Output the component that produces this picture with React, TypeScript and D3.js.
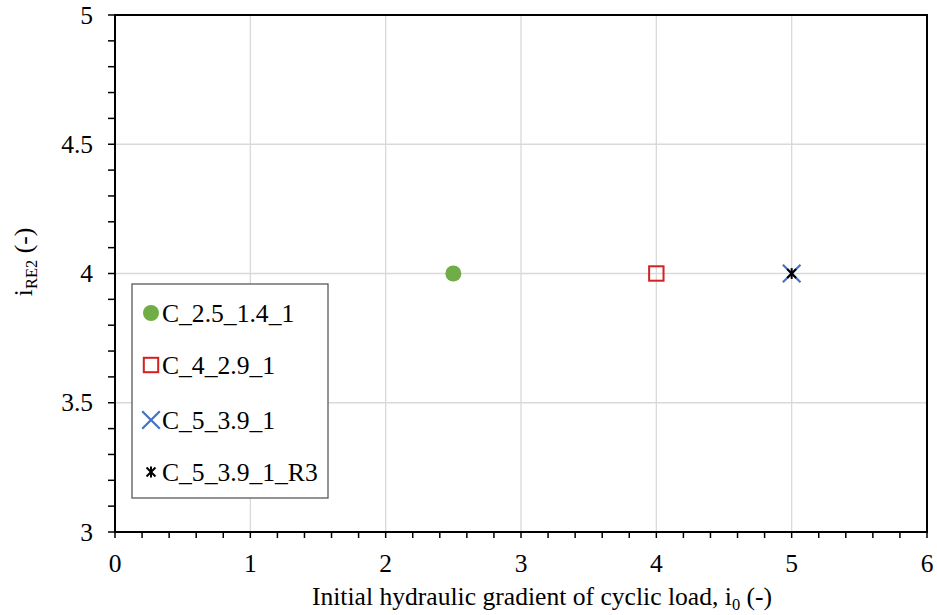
import React from "react";
import * as d3 from "d3";

const seriesNames = ["C_2.5_1.4_1", "C_4_2.9_1", "C_5_3.9_1", "C_5_3.9_1_R3"];
const seriesX = [2.5, 4, 5, 5];
const seriesY = [4, 4, 4, 4];
const seriesColors = ["#70ad47", "#d42020", "#4472c4", "#000000"];
const seriesShapes = ["circle", "square", "x", "star"];
const xTicks = [0, 1, 2, 3, 4, 5, 6];
const yTicks = [3, 3.5, 4, 4.5, 5];

const W = 937, H = 615;
const M = { left: 115, right: 927, top: 15, bottom: 532 };
const FONT = "'Liberation Serif', 'Times New Roman', serif";

function Marker({ shape, color, cx, cy, s }: { shape: string; color: string; cx: number; cy: number; s: number }) {
  if (shape === "circle") return <circle cx={cx} cy={cy} r={s * 0.5} fill={color} />;
  if (shape === "square")
    return <rect x={cx - s * 0.45} y={cy - s * 0.45} width={s * 0.9} height={s * 0.9} fill="none" stroke={color} strokeWidth={2} />;
  if (shape === "x") {
    const h = s * 0.55;
    return (
      <g stroke={color} strokeWidth={2.2}>
        <line x1={cx - h} y1={cy - h} x2={cx + h} y2={cy + h} />
        <line x1={cx - h} y1={cy + h} x2={cx + h} y2={cy - h} />
      </g>
    );
  }
  const h = s * 0.28;
  return (
    <g stroke={color} strokeWidth={2}>
      <line x1={cx - h} y1={cy - h} x2={cx + h} y2={cy + h} />
      <line x1={cx - h} y1={cy + h} x2={cx + h} y2={cy - h} />
      <line x1={cx} y1={cy - h * 1.2} x2={cx} y2={cy + h * 1.2} />
    </g>
  );
}

export default function App() {
  const x = d3.scaleLinear().domain([0, 6]).range([M.left, M.right]);
  const y = d3.scaleLinear().domain([3, 5]).range([M.bottom, M.top]);
  const xMinor = d3.range(0, 6.0001, 0.2);
  const yMinor = d3.range(3, 5.0001, 0.1);
  const legendX = 132, legendY = 284, legendW = 196, legendH = 214;
  const legendRows = [313, 365, 420, 472];
  return (
    <svg width={W} height={H} style={{ position: "absolute", left: 0, top: 0, background: "#fff" }} fontFamily={FONT}>
      <rect width={W} height={H} fill="#fff" />
      {xTicks.slice(1, -1).map((t) => (
        <line key={"gx" + t} x1={x(t)} x2={x(t)} y1={M.top} y2={M.bottom} stroke="#d9d9d9" strokeWidth={1.3} />
      ))}
      {yTicks.slice(1, -1).map((t) => (
        <line key={"gy" + t} x1={M.left} x2={M.right} y1={y(t)} y2={y(t)} stroke="#d9d9d9" strokeWidth={1.3} />
      ))}
      {xMinor.map((t, i) => (
        <line key={"tx" + i} x1={x(t)} x2={x(t)} y1={M.bottom} y2={M.bottom + 6} stroke="#000" strokeWidth={1.5} />
      ))}
      {yMinor.map((t, i) => (
        <line key={"ty" + i} x1={M.left - 7} x2={M.left} y1={y(t)} y2={y(t)} stroke="#000" strokeWidth={1.5} />
      ))}
      <rect x={M.left} y={M.top} width={M.right - M.left} height={M.bottom - M.top} fill="none" stroke="#000" strokeWidth={2} />
      {xTicks.map((t) => (
        <text key={"lx" + t} x={x(t)} y={572} fontSize={25.5} textAnchor="middle" fill="#000">{t}</text>
      ))}
      {yTicks.map((t) => (
        <text key={"ly" + t} x={93} y={y(t) + 8.5} fontSize={25.5} textAnchor="end" fill="#000">{t}</text>
      ))}
      <text x={542} y={605} fontSize={25.6} textAnchor="middle" fill="#000">
        Initial hydraulic gradient of cyclic load, i<tspan fontSize={16.5} dy={5}>0</tspan><tspan dy={-5}> (-)</tspan>
      </text>
      <text transform={`translate(32,262) rotate(-90)`} fontSize={25.6} textAnchor="middle" fill="#000">
        i<tspan fontSize={16.5} dy={5}>RE2</tspan><tspan dy={-5}> (-)</tspan>
      </text>
      {seriesNames.map((n, i) => (
        <Marker key={"m" + n} shape={seriesShapes[i]} color={seriesColors[i]} cx={x(seriesX[i])} cy={y(seriesY[i])} s={16} />
      ))}
      <rect x={legendX} y={legendY} width={legendW} height={legendH} fill="#fff" stroke="#595959" strokeWidth={1.3} />
      {seriesNames.map((n, i) => (
        <g key={"lg" + n}>
          <Marker shape={seriesShapes[i]} color={seriesColors[i]} cx={151} cy={legendRows[i]} s={16} />
          <text x={162} y={legendRows[i] + 9} fontSize={25.6} fill="#000">{n}</text>
        </g>
      ))}
    </svg>
  );
}
